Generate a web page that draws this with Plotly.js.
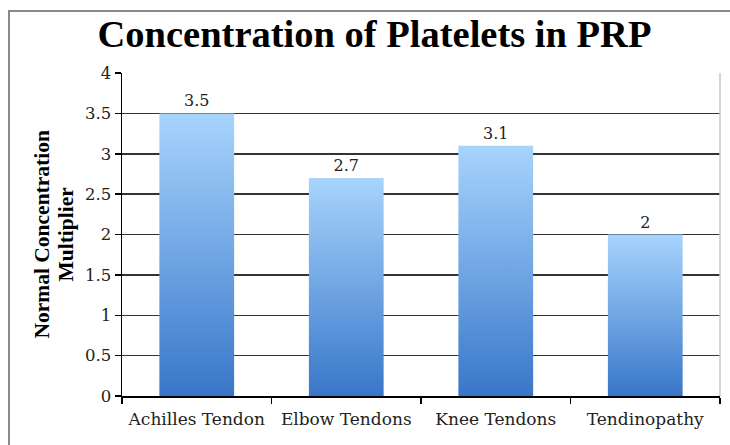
<!DOCTYPE html>
<html>
<head>
<meta charset="utf-8">
<script src="https://cdn.plot.ly/plotly-3.0.1.min.js"></script>
<style>
  html, body { margin: 0; padding: 0; background: #fff; }
  #wrap { position: relative; width: 730px; height: 445px; overflow: hidden; }
  #frame { position: absolute; left: 8px; top: 10px; width: 800px; height: 500px;
           border-left: 2px solid #8a8a8a; border-top: 2px solid #8a8a8a; pointer-events: none; }
  #chart { position: absolute; left: 0; top: 0; width: 730px; height: 445px; }
</style>
</head>
<body>
<div id="wrap">
  <div id="chart"></div>
  <div id="frame"></div>
</div>
<script>
const categories = ["Achilles Tendon", "Elbow Tendons", "Knee Tendons", "Tendinopathy"];
const values = [3.5, 2.7, 3.1, 2];
const valueLabels = ["3.5", "2.7", "3.1", "2"];
const yTitleLines = ["Normal Concentration", "Multiplier"];

const serif = "DejaVu Serif, serif";
const titleSerif = "Liberation Serif, Times New Roman, serif";

const trace = {
  type: "bar",
  x: categories,
  y: values,
  text: valueLabels,
  textposition: "outside",
  cliponaxis: false,
  textfont: { family: serif, size: 16, color: "#222" },
  marker: { color: "rgb(110,165,230)", line: { width: 0 } },
  hoverinfo: "none"
};

const layout = {
  width: 730, height: 445,
  margin: { l: 122, r: 10, t: 73, b: 49 },
  paper_bgcolor: "rgba(0,0,0,0)",
  plot_bgcolor: "rgba(0,0,0,0)",
  bargap: 0.5,
  showlegend: false,
  title: {
    text: "<b>Concentration of Platelets in PRP</b>",
    font: { family: titleSerif, size: 38.5, color: "#000" },
    x: 0.513, xanchor: "center", y: 0.925, yanchor: "middle"
  },
  xaxis: {
    type: "category",
    tickson: "boundaries",
    ticks: "outside", ticklen: 6, tickcolor: "#000", tickwidth: 1.5,
    showline: true, linecolor: "#000", linewidth: 1.5,
    showgrid: false,
    ticklabelstandoff: 7,
    tickfont: { family: serif, size: 17, color: "#222" }
  },
  yaxis: {
    range: [0, 4], dtick: 0.5, tick0: 0,
    ticks: "outside", ticklen: 6, tickcolor: "#000", tickwidth: 1.5,
    showline: true, linecolor: "#000", linewidth: 1.5,
    showgrid: true, gridcolor: "#333", gridwidth: 1.5,
    zeroline: false,
    tickfont: { family: serif, size: 16.5, color: "#222" }
  },
  annotations: [
    { text: "<b>" + yTitleLines[0] + "</b>", xref: "paper", yref: "paper",
      x: -0.1338, y: 0.5, xanchor: "center", yanchor: "middle", textangle: -90,
      showarrow: false, font: { family: titleSerif, size: 21.5, color: "#000" } },
    { text: "<b>" + yTitleLines[1] + "</b>", xref: "paper", yref: "paper",
      x: -0.0953, y: 0.5, xanchor: "center", yanchor: "middle", textangle: -90,
      showarrow: false, font: { family: titleSerif, size: 21.5, color: "#000" } }
  ],
  shapes: [
    { type: "line", xref: "paper", yref: "paper", x0: 1, x1: 1, y0: 0, y1: 1,
      line: { color: "#c8c8c8", width: 1.5 } }
  ]
};

Plotly.newPlot("chart", [trace], layout, { staticPlot: true, displayModeBar: false }).then(function (gd) {
  const svg = gd.querySelector("svg.main-svg");
  const ns = "http://www.w3.org/2000/svg";
  let defs = svg.querySelector("defs");
  if (!defs) { defs = document.createElementNS(ns, "defs"); svg.insertBefore(defs, svg.firstChild); }
  const grad = document.createElementNS(ns, "linearGradient");
  grad.setAttribute("id", "barGrad");
  grad.setAttribute("x1", "0"); grad.setAttribute("y1", "0");
  grad.setAttribute("x2", "0"); grad.setAttribute("y2", "1");
  [["0", "rgb(168,212,252)"], ["0.5", "rgb(112,166,228)"], ["1", "rgb(56,118,200)"]].forEach(function (s) {
    const st = document.createElementNS(ns, "stop");
    st.setAttribute("offset", s[0]);
    st.setAttribute("stop-color", s[1]);
    grad.appendChild(st);
  });
  defs.appendChild(grad);
  gd.querySelectorAll(".barlayer .point path").forEach(function (p) {
    p.style.fill = "url(#barGrad)";
  });
});
</script>
</body>
</html>
